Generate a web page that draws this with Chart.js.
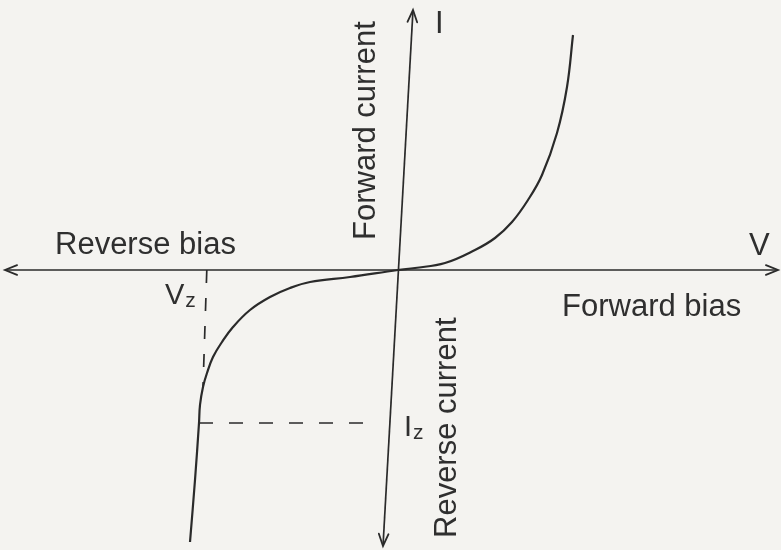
<!DOCTYPE html>
<html>
<head>
<meta charset="utf-8">
<title>Zener diode I–V characteristic</title>
<script src="https://cdn.jsdelivr.net/npm/chart.js@4/dist/chart.umd.min.js"></script>
<style>
  html, body { margin: 0; padding: 0; background: #f4f3f0; }
  #wrap { width: 781px; height: 550px; position: relative; }
</style>
</head>
<body>
<div id="wrap"><canvas id="iv"></canvas></div>
<script>
// Characteristic curve, reverse branch (breakdown knee near Vz) – schematic units
const reverseV = [-5.2, -5.075, -4.975, -4.95, -4.875, -4.775, -4.625, -4.4, -4.125, -3.7, -3.2, -2.7, -2.2, -1.2];
const reverseI = [-13.6, -10.5, -7.65, -6.75, -5.85, -5.15, -4.35, -3.6, -2.85, -2.0, -1.35, -0.9, -0.6, -0.35];
// Forward branch starting at the origin
const forwardV = [0, 0.425, 1.175, 1.925, 2.425, 2.85, 3.25, 3.6, 3.975, 4.225, 4.375];
const forwardI = [0, 0.1, 0.35, 1.0, 1.6, 2.4, 3.5, 4.75, 6.85, 9.15, 11.75];

// Zener voltage / current markers
const zenerV = -4.78;
const zenerKneeV = -4.875;
const zenerKneeI = -5.85;
const zenerI = -7.65;

// Axis end points (V axis is horizontal, I axis is drawn slightly slanted)
const vAxisV = [-9.825, 9.5];
const vAxisI = [0, 0];
const iAxisV = [0.375, -0.375];
const iAxisI = [13, -13.8];

const curve = reverseV.map((v, k) => ({ x: v, y: reverseI[k] }))
  .concat(forwardV.map((v, k) => ({ x: v, y: forwardI[k] })));
const pairs = (xs, ys) => xs.map((v, k) => ({ x: v, y: ys[k] }));

const INK = '#2a2a2a';
const TEXT = '#2f2f2f';
const FONT = '"Liberation Sans", Arial, Helvetica, sans-serif';

// Text placed in data space; rotate = true for the vertical axis captions
const labels = [
  { text: 'Reverse bias', x: -8.575, y: 0.8, size: 31 },
  { text: 'Forward bias', x: 4.1, y: -2.3, size: 31 },
  { text: 'V', x: 8.775, y: 0.75, size: 31 },
  { text: 'I', x: 0.925, y: 11.85, size: 31 },
  { text: 'Forward current', x: -0.575, y: 1.5, size: 31, rotate: true },
  { text: 'Reverse current', x: 1.45, y: -13.4, size: 31, rotate: true },
  { text: 'V', sub: 'z', x: -5.825, y: -1.7, size: 29 },
  { text: 'I', sub: 'z', x: 0.15, y: -8.3, size: 29 }
];

const arrowPlugin = {
  id: 'axisArrows',
  afterDatasetsDraw(chart) {
    const ctx = chart.ctx;
    chart.data.datasets.forEach((ds, i) => {
      if (!ds.arrows) return;
      const pts = chart.getDatasetMeta(i).data;
      const ends = [[pts[0], pts[1]], [pts[pts.length - 1], pts[pts.length - 2]]];
      ctx.save();
      ctx.strokeStyle = INK;
      ctx.lineWidth = 1.8;
      ctx.lineCap = 'round';
      ends.forEach(([tip, prev]) => {
        const a = Math.atan2(tip.y - prev.y, tip.x - prev.x);
        const len = 13, spread = 0.38;
        ctx.beginPath();
        ctx.moveTo(tip.x - len * Math.cos(a - spread), tip.y - len * Math.sin(a - spread));
        ctx.lineTo(tip.x, tip.y);
        ctx.lineTo(tip.x - len * Math.cos(a + spread), tip.y - len * Math.sin(a + spread));
        ctx.stroke();
      });
      ctx.restore();
    });
  }
};

const labelPlugin = {
  id: 'figureLabels',
  afterDraw(chart) {
    const ctx = chart.ctx;
    const xs = chart.scales.x, ys = chart.scales.y;
    ctx.save();
    ctx.fillStyle = TEXT;
    ctx.textBaseline = 'alphabetic';
    ctx.textAlign = 'left';
    labels.forEach(l => {
      const px = xs.getPixelForValue(l.x);
      const py = ys.getPixelForValue(l.y);
      ctx.save();
      ctx.translate(px, py);
      if (l.rotate) ctx.rotate(-Math.PI / 2);
      ctx.font = l.size + 'px ' + FONT;
      ctx.fillText(l.text, 0, 0);
      if (l.sub) {
        const w = ctx.measureText(l.text).width;
        ctx.font = Math.round(l.size * 0.72) + 'px ' + FONT;
        ctx.fillText(l.sub, w + 1, 3);
      }
      ctx.restore();
    });
    ctx.restore();
  }
};

new Chart(document.getElementById('iv'), {
  type: 'line',
  data: {
    datasets: [
      { data: curve, borderColor: INK, borderWidth: 2.2, tension: 0.4 },
      { data: pairs(vAxisV, vAxisI), borderColor: INK, borderWidth: 1.7, arrows: true },
      { data: pairs(iAxisV, iAxisI), borderColor: INK, borderWidth: 1.7, arrows: true },
      { data: [{ x: zenerV, y: 0 }, { x: zenerKneeV, y: zenerKneeI }],
        borderColor: INK, borderWidth: 1.7, borderDash: [13, 15] },
      { data: [{ x: reverseV[2], y: zenerI }, { x: -0.625, y: zenerI }],
        borderColor: INK, borderWidth: 1.7, borderDash: [14, 16] }
    ]
  },
  options: {
    responsive: true,
    maintainAspectRatio: false,
    animation: false,
    layout: { padding: 0 },
    elements: { point: { radius: 0, hoverRadius: 0 }, line: { tension: 0 } },
    plugins: { legend: { display: false }, tooltip: { enabled: false } },
    events: [],
    scales: {
      x: { type: 'linear', min: -9.95, max: 9.575, display: false },
      y: { type: 'linear', min: -14, max: 13.5, display: false }
    }
  },
  plugins: [arrowPlugin, labelPlugin]
});
</script>
</body>
</html>
